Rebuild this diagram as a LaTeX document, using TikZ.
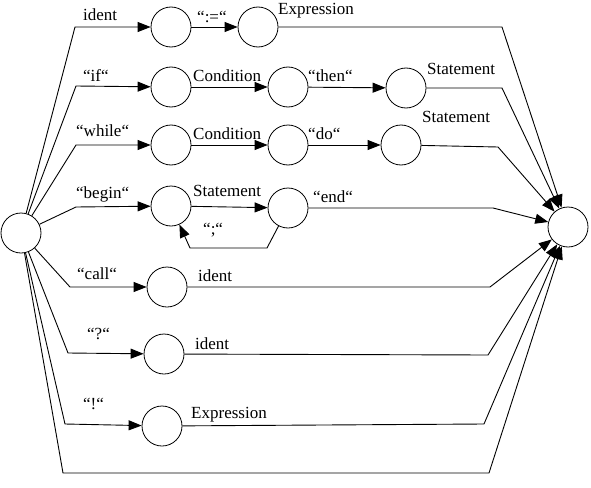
\documentclass[tikz,border=0pt]{standalone}
\usepackage{fontspec}
\setmainfont{Liberation Serif}
\usetikzlibrary{arrows.meta}
\tikzset{st/.style={draw,circle,minimum size=40pt,inner sep=0pt,line width=0.8pt},
  lbl/.style={anchor=west,inner sep=0pt,font=\rmfamily\fontsize{17}{20}\selectfont},
  arr/.style={-{Triangle[length=13pt,width=10pt]},line width=0.9pt}}
\begin{document}
\begin{tikzpicture}[x=1pt,y=-1pt]
\useasboundingbox (0,0) rectangle (591,487);
\node[st] (start) at (21,233) {};
\node[st] (end) at (568,227) {};
\node[st] (a1) at (171,27) {};
\node[st] (a2) at (258,27) {};
\node[st] (b1) at (171,87) {};
\node[st] (b2) at (288,87) {};
\node[st] (b3) at (406,88) {};
\node[st] (c1) at (171,145) {};
\node[st] (c2) at (288,145) {};
\node[st] (c3) at (401,145) {};
\node[st] (d1) at (171,206) {};
\node[st] (d2) at (288,208) {};
\node[st] (e1) at (167,287) {};
\node[st] (f1) at (164,354) {};
\node[st] (g1) at (162,426) {};
\node[lbl] (la) at (83,15) {ident};
\node[lbl] (la1) at (197,17) {“:=“};
\node[lbl] (la2) at (278,11) {Expression};
\node[lbl] (lb) at (83,76) {“if“};
\node[lbl] (lb1) at (193,76) {Condition};
\node[lbl] (lb2) at (308,76) {“then“};
\node[lbl] (lb3) at (427,69) {Statement};
\node[lbl] (lc) at (76,131) {“while“};
\node[lbl] (lc1) at (193,134) {Condition};
\node[lbl] (lc2) at (308,134) {“do“};
\node[lbl] (lc3) at (422,117) {Statement};
\node[lbl] (ld) at (76,194) {“begin“};
\node[lbl] (ld1) at (193,191) {Statement};
\node[lbl] (ld2) at (203,230) {“;“};
\node[lbl] (ld3) at (313,197) {“end“};
\node[lbl] (le) at (77,274) {“call“};
\node[lbl] (le1) at (198,276) {ident};
\node[lbl] (lf) at (87,334) {“?“};
\node[lbl] (lf1) at (195,344) {ident};
\node[lbl] (lg) at (83,404) {“!“};
\node[lbl] (lg1) at (191,415) {Expression};
\draw[arr] (start) -- (75,27) -- (a1);
\draw[arr] (a1) -- (a2);
\draw[arr] (a2) -- (502,27) -- (end);
\draw[arr] (start) -- (76,86) -- (b1);
\draw[arr] (b1) -- (b2);
\draw[arr] (b2) -- (b3);
\draw[arr] (b3) -- (502,88) -- (end);
\draw[arr] (start) -- (76,145) -- (c1);
\draw[arr] (c1) -- (c2);
\draw[arr] (c2) -- (c3);
\draw[arr] (c3) -- (498,147) -- (end);
\draw[arr] (start) -- (76,207) -- (d1);
\draw[arr] (d1) -- (d2);
\draw[arr] (d2) -- (267,248) -- (190,248) -- (d1);
\draw[arr] (d2) -- (493,208) -- (end);
\draw[arr] (start) -- (70,287) -- (e1);
\draw[arr] (e1) -- (490,287) -- (end);
\draw[arr] (start) -- (68,353) -- (f1);
\draw[arr] (f1) -- (488,355) -- (end);
\draw[arr] (start) -- (65,424) -- (g1);
\draw[arr] (g1) -- (484,424) -- (end);
\draw[arr] (start) -- (63,473) -- (489,473) -- (end);
\end{tikzpicture}
\end{document}
